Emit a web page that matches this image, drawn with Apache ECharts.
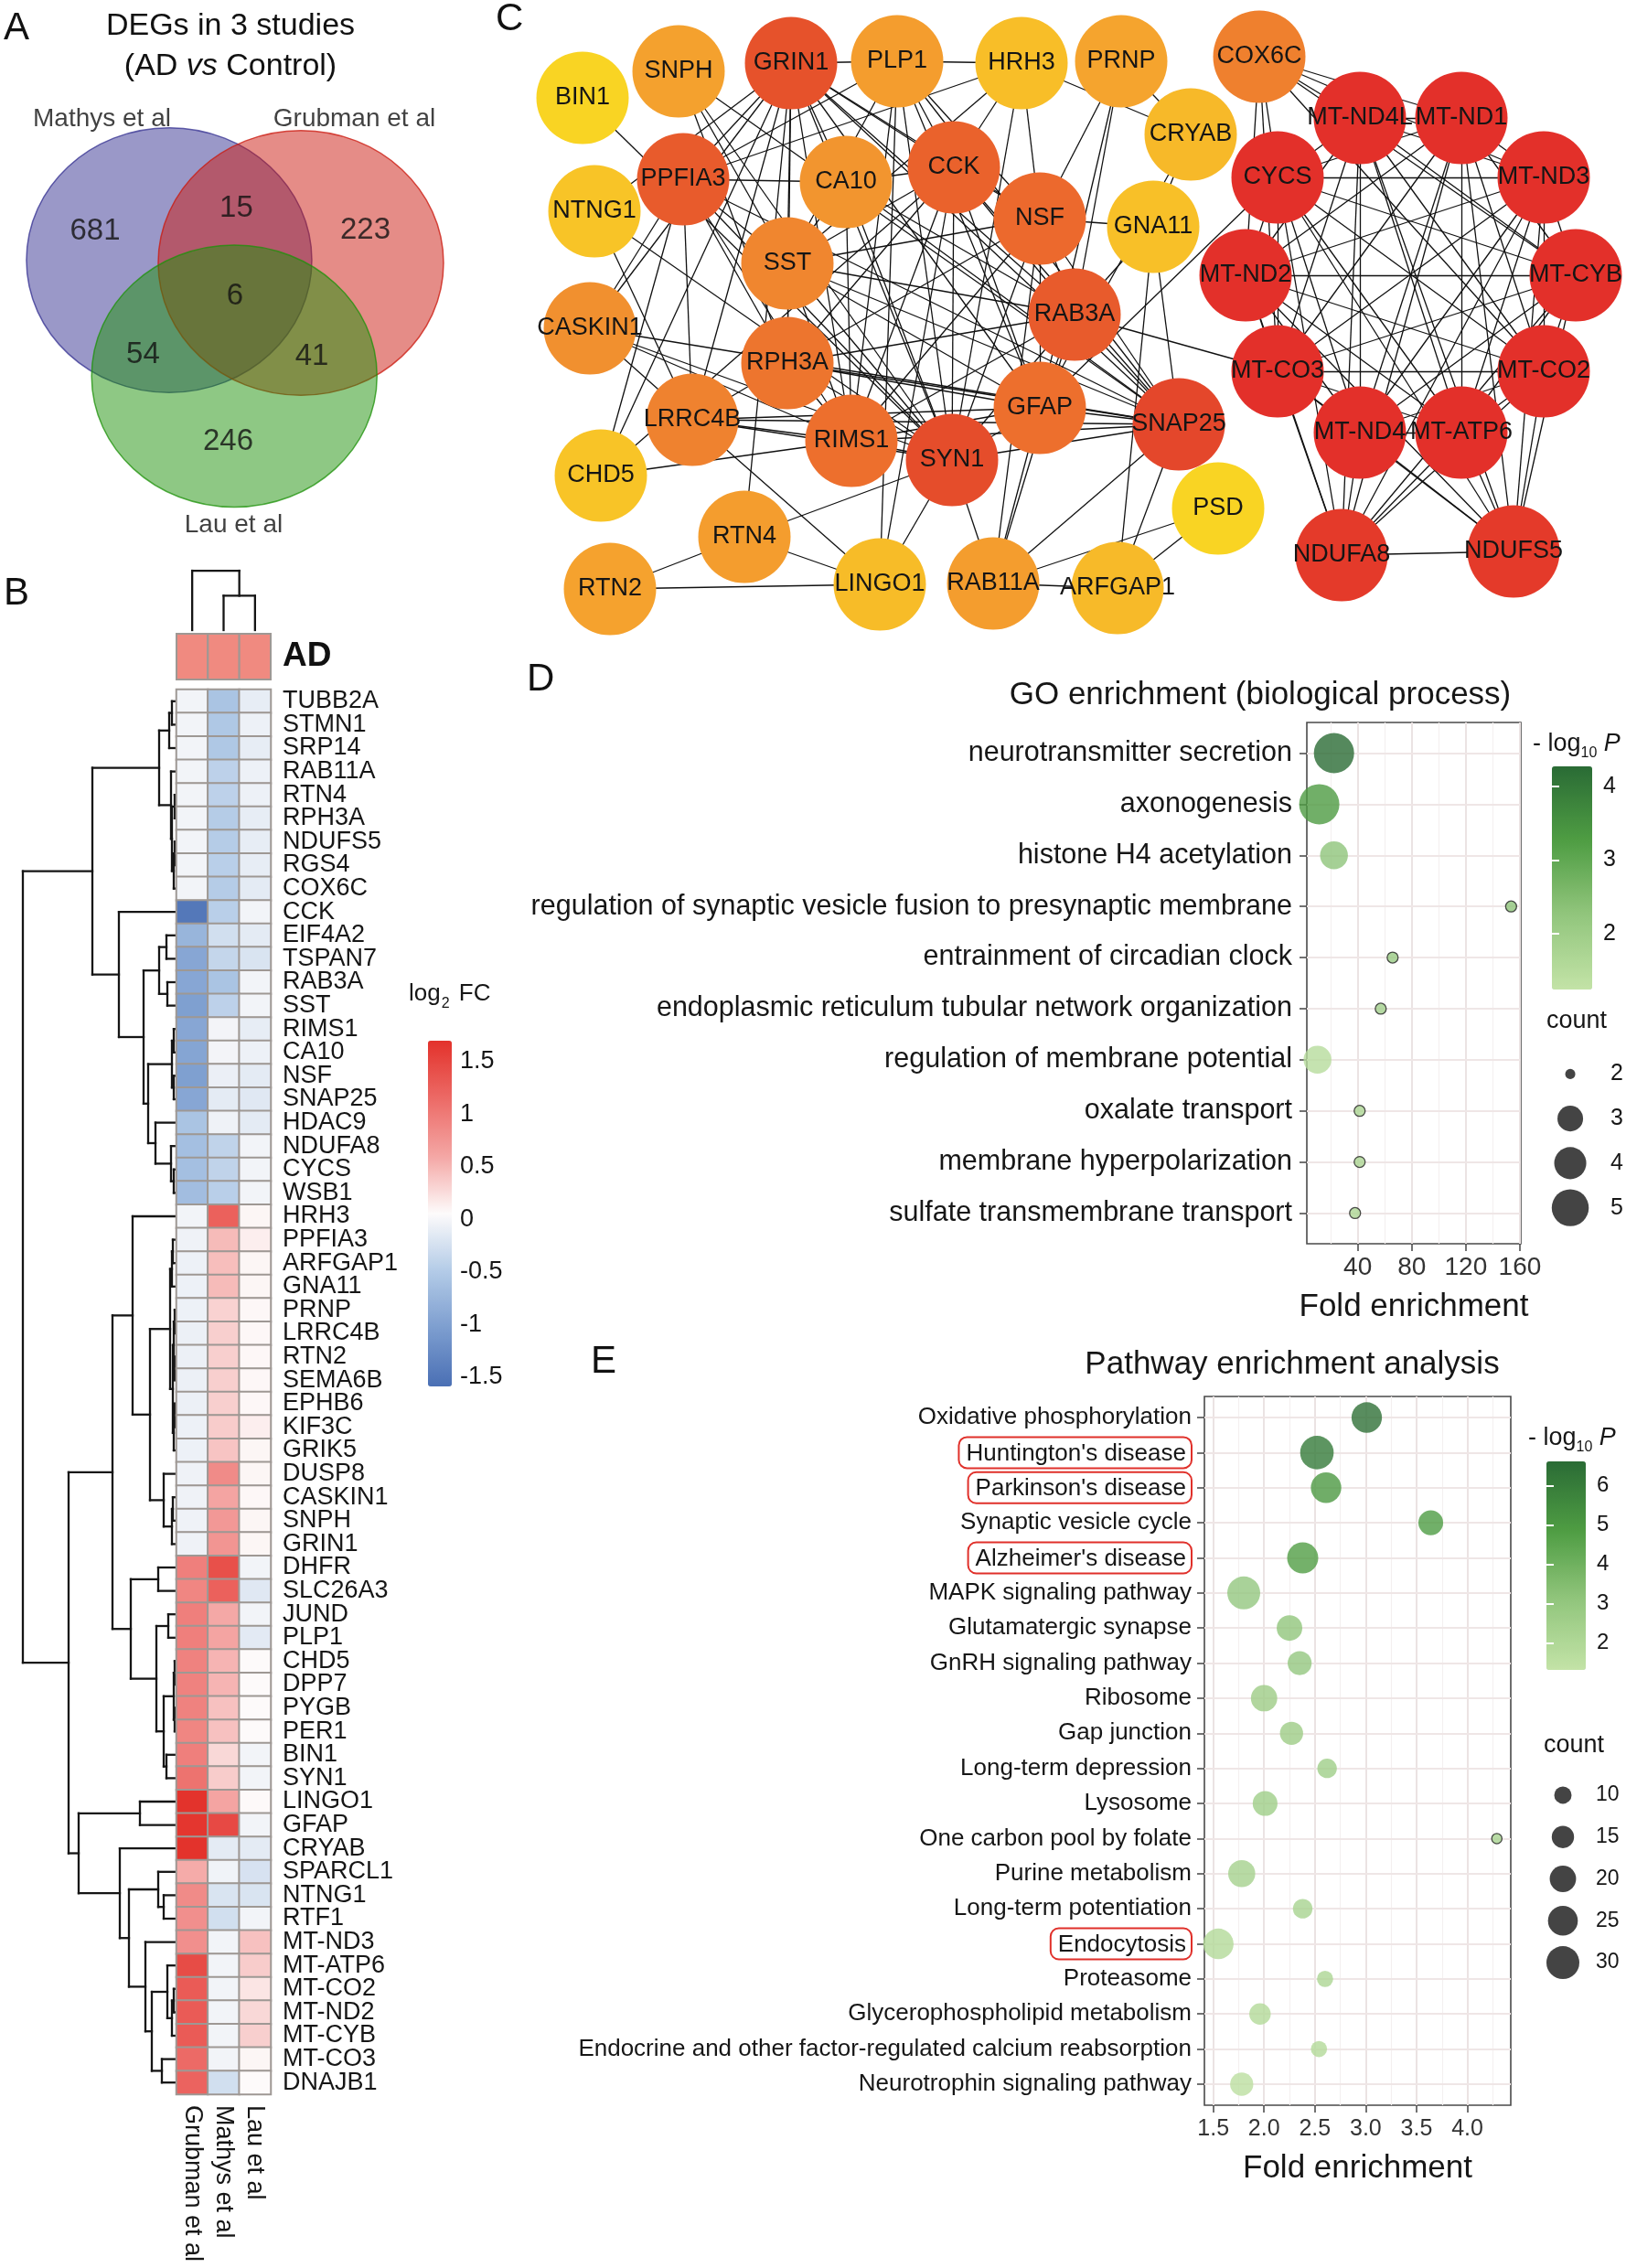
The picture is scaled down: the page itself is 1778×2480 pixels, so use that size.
<!DOCTYPE html>
<html>
<head>
<meta charset="utf-8">
<script src="https://cdn.jsdelivr.net/npm/echarts@6.0.0/dist/echarts.min.js"></script>
<style>
html,body{margin:0;padding:0;background:#fff;}
#chart{width:1778px;height:2480px;}
</style>
</head>
<body>
<div id="chart"></div>
<script>
// ================= DATA =================
// ---- Panel A: Venn ----
const vennSetNames = ['Mathys et al', 'Grubman et al', 'Lau et al'];
const vennRegionNames = ['Mathys only', 'Grubman only', 'Lau only', 'Mathys & Grubman', 'Mathys & Lau', 'Grubman & Lau', 'All three'];
const vennCounts = [681, 223, 246, 15, 54, 41, 6];

// ---- Panel B: heatmap ----
const studies = ['Grubman et al', 'Mathys et al', 'Lau et al'];
const annotationRow = ['AD'];
const genes = ['TUBB2A','STMN1','SRP14','RAB11A','RTN4','RPH3A','NDUFS5','RGS4','COX6C','CCK',
  'EIF4A2','TSPAN7','RAB3A','SST','RIMS1','CA10','NSF','SNAP25','HDAC9','NDUFA8',
  'CYCS','WSB1','HRH3','PPFIA3','ARFGAP1','GNA11','PRNP','LRRC4B','RTN2','SEMA6B',
  'EPHB6','KIF3C','GRIK5','DUSP8','CASKIN1','SNPH','GRIN1','DHFR','SLC26A3','JUND',
  'PLP1','CHD5','DPP7','PYGB','PER1','BIN1','SYN1','LINGO1','GFAP','CRYAB',
  'SPARCL1','NTNG1','RTF1','MT-ND3','MT-ATP6','MT-CO2','MT-ND2','MT-CYB','MT-CO3','DNAJB1'];
const fcGrubman = [-0.03,-0.03,-0.03,-0.03,-0.03,-0.03,-0.03,-0.03,-0.03,-1.48,
  -0.76,-0.93,-0.93,-1.01,-0.93,-0.95,-1.01,-0.93,-0.58,-0.64,
  -0.64,-0.66,-0.03,-0.05,-0.06,-0.06,-0.06,-0.07,-0.07,-0.07,
  -0.07,-0.06,-0.06,-0.05,-0.05,-0.05,-0.05,0.96,0.90,0.96,
  0.96,0.93,0.93,0.93,0.90,0.96,1.07,1.69,1.66,1.69,
  0.57,0.85,0.81,0.81,1.45,1.30,1.30,1.30,1.15,1.22];
const fcMathys = [-0.58,-0.53,-0.53,-0.42,-0.42,-0.48,-0.48,-0.45,-0.48,-0.45,
  -0.27,-0.37,-0.58,-0.42,-0.02,-0.02,-0.08,-0.13,-0.05,-0.40,
  -0.40,-0.45,1.24,0.47,0.45,0.47,0.32,0.34,0.34,0.34,
  0.34,0.36,0.41,0.85,0.62,0.73,0.76,1.41,1.24,0.59,
  0.62,0.51,0.51,0.43,0.43,0.28,0.36,0.62,1.47,-0.13,
  -0.04,-0.21,-0.27,-0.03,-0.03,-0.03,-0.03,-0.03,-0.03,-0.27];
const fcLau = [-0.11,-0.06,-0.11,-0.06,-0.06,-0.11,-0.11,-0.11,-0.13,-0.03,
  -0.13,-0.21,-0.03,-0.03,-0.11,-0.06,-0.13,-0.16,-0.13,-0.03,
  -0.03,-0.03,0.09,0.14,0.09,0.09,0.08,0.08,0.08,0.08,
  0.08,0.14,0.09,0.09,0.08,0.09,0.09,-0.03,-0.16,-0.03,
  -0.14,0.06,0.06,0.06,0.06,-0.03,-0.03,0.07,-0.03,-0.13,
  -0.23,-0.21,-0.03,0.43,0.36,0.20,0.28,0.34,0.09,0.06];
// hierarchical clustering merges (R hclust style: negative = leaf, positive = earlier merge), height
const rowMerges = [
  [-1,-2,5],[1,-3,8],[-5,-6,2],[-7,-8,2],[4,-9,3],[3,5,5],[-4,6,6],[2,7,19],
  [-11,-12,11],[-13,-14,10],[9,10,19],[-15,-16,3],[-17,-18,3],[12,13,5],[-21,-22,3],[-20,15,6],
  [-19,16,23],[14,17,31],[11,18,36],[-10,19,63],[8,20,92],
  [-24,-25,4],[22,-26,5],[-27,-28,2],[-29,-30,2],[24,25,3],[-31,-32,2],[27,-33,3],[26,28,4],
  [23,29,7],[-35,-36,4],[31,-37,5],[-34,32,14],[30,33,29],[-23,34,48],
  [-38,-39,20],[-40,-41,9],[-42,-43,2],[-44,-45,2],[38,39,3],[-46,-47,11],[40,41,14],[37,42,22],
  [36,43,50],[35,44,70],
  [-48,-49,40],[-52,-53,14],[-51,47,20],[-56,-57,3],[49,-58,5],[-55,50,10],[-59,-60,16],[51,52,27],
  [-54,53,34],[48,54,52],[-50,55,62],[46,56,107],[45,57,118],[21,58,168]
];
const colMerges = [[-2,-3,37],[-1,1,64]];
const fcTicks = [-1.5,-1,-0.5,0,0.5,1,1.5];

// ---- Panel C: network ----
const netNodes = ['BIN1','SNPH','GRIN1','PLP1','HRH3','PRNP','COX6C','CRYAB','NTNG1','PPFIA3',
  'CA10','CCK','NSF','GNA11','SST','RAB3A','CASKIN1','RPH3A','LRRC4B','GFAP',
  'SNAP25','RIMS1','SYN1','CHD5','PSD','RTN4','RTN2','LINGO1','RAB11A','ARFGAP1',
  'MT-ND4L','MT-ND1','CYCS','MT-ND3','MT-ND2','MT-CYB','MT-CO3','MT-CO2','MT-ND4','MT-ATP6','NDUFA8','NDUFS5'];
const netScore = [0.00,0.36,0.82,0.38,0.19,0.34,0.55,0.22,0.15,0.76,
  0.43,0.72,0.67,0.18,0.52,0.76,0.46,0.61,0.54,0.64,
  0.88,0.64,0.85,0.15,0.00,0.38,0.35,0.20,0.38,0.21,
  1,1,1,1,1,1,1,1,1,1,0.95,0.95];
const netEdges = [
  ['GRIN1','PLP1'],['GRIN1','PPFIA3'],['GRIN1','CASKIN1'],['GRIN1','LRRC4B'],['GRIN1','CHD5'],['GRIN1','SST'],['GRIN1','CA10'],['GRIN1','RPH3A'],['GRIN1','RIMS1'],['GRIN1','SYN1'],['GRIN1','GFAP'],['GRIN1','SNAP25'],['GRIN1','RAB3A'],['GRIN1','NSF'],['GRIN1','CCK'],['GRIN1','NTNG1'],['GRIN1','RTN4'],
  ['SNPH','SST'],['SNPH','SYN1'],['SNPH','SNAP25'],['SNPH','RPH3A'],['BIN1','SYN1'],
  ['PLP1','HRH3'],['PLP1','CCK'],['PLP1','SYN1'],['PLP1','SST'],['PLP1','RIMS1'],['PLP1','SNAP25'],['PLP1','GFAP'],['PLP1','PPFIA3'],['PLP1','LINGO1'],['PLP1','NSF'],
  ['HRH3','CCK'],['HRH3','SST'],['HRH3','CRYAB'],['HRH3','SYN1'],['HRH3','PPFIA3'],['HRH3','NSF'],
  ['PRNP','NSF'],['PRNP','GFAP'],['PRNP','CRYAB'],['PRNP','RAB3A'],['CRYAB','GNA11'],['CRYAB','GFAP'],
  ['GNA11','NSF'],['GNA11','RAB3A'],['GNA11','ARFGAP1'],['GNA11','SNAP25'],
  ['CCK','SST'],['CCK','SYN1'],['CCK','RIMS1'],['CCK','GFAP'],['CCK','SNAP25'],['CCK','RAB3A'],['CCK','NSF'],['CCK','CA10'],['CCK','RPH3A'],['CCK','LINGO1'],['CCK','CHD5'],
  ['NSF','SNAP25'],['NSF','SYN1'],['NSF','RAB3A'],['NSF','GFAP'],['NSF','RIMS1'],['NSF','RAB11A'],['NSF','SST'],['NSF','RPH3A'],
  ['RAB3A','SNAP25'],['RAB3A','SYN1'],['RAB3A','RIMS1'],['RAB3A','RPH3A'],['RAB3A','GFAP'],['RAB3A','MT-CO3'],['RAB3A','RAB11A'],['RAB3A','SST'],['RAB3A','CA10'],
  ['SNAP25','SYN1'],['SNAP25','GFAP'],['SNAP25','RIMS1'],['SNAP25','RPH3A'],['SNAP25','SST'],['SNAP25','CA10'],['SNAP25','RAB11A'],['SNAP25','ARFGAP1'],['SNAP25','LRRC4B'],['SNAP25','PPFIA3'],['SNAP25','CASKIN1'],
  ['SYN1','RIMS1'],['SYN1','GFAP'],['SYN1','RPH3A'],['SYN1','SST'],['SYN1','CA10'],['SYN1','LRRC4B'],['SYN1','RTN4'],['SYN1','LINGO1'],['SYN1','RAB11A'],['SYN1','PPFIA3'],['SYN1','CASKIN1'],['SYN1','NTNG1'],
  ['GFAP','RIMS1'],['GFAP','RPH3A'],['GFAP','RAB11A'],['GFAP','LRRC4B'],['GFAP','SST'],['GFAP','CYCS'],
  ['RIMS1','RPH3A'],['RIMS1','LRRC4B'],['RIMS1','PPFIA3'],['RIMS1','CASKIN1'],['RIMS1','CA10'],['RIMS1','SST'],['RIMS1','CHD5'],
  ['PPFIA3','SST'],['PPFIA3','LRRC4B'],['PPFIA3','CASKIN1'],['PPFIA3','CHD5'],['PPFIA3','RPH3A'],['PPFIA3','CA10'],
  ['LRRC4B','CASKIN1'],['LRRC4B','LINGO1'],['LRRC4B','NTNG1'],['LRRC4B','RPH3A'],
  ['RTN2','RTN4'],['RTN2','LINGO1'],['RTN4','LINGO1'],['RAB11A','ARFGAP1'],['RAB11A','PSD'],['ARFGAP1','PSD'],
  ['SST','RPH3A'],['CA10','SST']
];
const mtClique = ['MT-ND4L','MT-ND1','MT-ND3','MT-CYB','MT-CO2','MT-ATP6','MT-ND4','MT-CO3','MT-ND2','CYCS'];
const mtHubEdges = [
  ['NDUFA8', ['MT-ND4L','MT-ND1','MT-ND3','MT-CYB','MT-CO2','MT-ATP6','MT-ND4','MT-CO3','MT-ND2','CYCS','NDUFS5']],
  ['NDUFS5', ['MT-ND4L','MT-ND1','MT-ND3','MT-CYB','MT-CO2','MT-ATP6','MT-ND4','MT-CO3','MT-ND2','CYCS']],
  ['COX6C', ['CYCS','MT-ND4L','MT-ND1','MT-ND3','MT-ND2','MT-CO3','MT-CYB','MT-CO2']]
];

// ---- Panel D: GO enrichment ----
const goTerms = ['neurotransmitter secretion','axonogenesis','histone H4 acetylation',
  'regulation of synaptic vesicle fusion to presynaptic membrane','entrainment of circadian clock',
  'endoplasmic reticulum tubular network organization','regulation of membrane potential',
  'oxalate transport','membrane hyperpolarization','sulfate transmembrane transport'];
const goFold = [22.4, 11.5, 22.4, 153.5, 65.8, 57.0, 10.2, 41.4, 41.4, 38.0];
const goLogP = [4.25, 3.3, 2.3, 2.3, 2.1, 1.9, 1.5, 1.7, 1.7, 1.7];
const goCount = [5, 5, 3, 2, 2, 2, 3, 2, 2, 2];
const goTicks = [40, 80, 120, 160];
const goMinorTicks = [20, 60, 100, 140];
const goColorTicks = [2, 3, 4];
const goCountLegend = [2, 3, 4, 5];

// ---- Panel E: pathway enrichment ----
const pwTerms = ['Oxidative phosphorylation',"Huntington's disease","Parkinson's disease",'Synaptic vesicle cycle',
  "Alzheimer's disease",'MAPK signaling pathway','Glutamatergic synapse','GnRH signaling pathway','Ribosome',
  'Gap junction','Long-term depression','Lysosome','One carbon pool by folate','Purine metabolism',
  'Long-term potentiation','Endocytosis','Proteasome','Glycerophospholipid metabolism',
  'Endocrine and other factor-regulated calcium reabsorption','Neurotrophin signaling pathway'];
const pwFold = [3.01, 2.52, 2.61, 3.64, 2.38, 1.80, 2.25, 2.35, 2.00, 2.27, 2.62, 2.01, 4.29, 1.78, 2.38, 1.55, 2.60, 1.96, 2.54, 1.78];
const pwLogP = [6.4, 6.1, 5.0, 4.9, 4.8, 3.0, 3.1, 3.0, 2.7, 2.7, 2.6, 2.6, 2.3, 2.4, 2.3, 1.9, 2.1, 1.9, 1.9, 1.6];
const pwCount = [26, 31, 26, 18, 27, 30, 19, 17, 20, 16, 12, 18, 5, 21, 12, 26, 9, 14, 9, 16];
const pwHighlight = ["Huntington's disease", "Parkinson's disease", "Alzheimer's disease", 'Endocytosis'];
const pwTicks = [1.5, 2.0, 2.5, 3.0, 3.5, 4.0];
const pwMinorTicks = [1.75, 2.25, 2.75, 3.25, 3.75, 4.25];
const pwColorTicks = [2, 3, 4, 5, 6];
const pwCountLegend = [10, 15, 20, 25, 30];

// ================= LAYOUT / STYLE =================
const FONT = '"Liberation Sans", Arial, Helvetica, sans-serif';
const TXT = '#161616';
const VENN_CIRCLES = [[-0.48,-0.29,1.04,0.965],[0.48,-0.27,1.04,0.965],[-0.005,0.555,1.04,0.955]];
const VENN_FILL = ['rgba(53,49,145,0.5)','rgba(203,25,15,0.5)','rgba(30,145,10,0.5)'];
const VENN_STROKE = ['rgba(53,49,145,0.75)','rgba(203,25,15,0.75)','rgba(30,145,10,0.75)'];
const VENN_COUNT_POS = [[-1.02,-0.50],[0.95,-0.51],[-0.05,1.03],[0.01,-0.67],[-0.67,0.40],[0.56,0.41],[0,-0.03]];
const VENN_NAME_POS = [[-0.97,-1.32],[0.87,-1.32],[-0.01,1.64]];
const NET_POS = {
  'BIN1':[637,107],'SNPH':[742,78],'GRIN1':[865,69],'PLP1':[981,67],'HRH3':[1117,69],'PRNP':[1226,67],'COX6C':[1377,62],'CRYAB':[1302,147],
  'NTNG1':[650,231],'PPFIA3':[747,196],'CA10':[925,199],'CCK':[1043,183],'NSF':[1137,239],'GNA11':[1261,248],'SST':[861,288],'RAB3A':[1175,344],
  'CASKIN1':[645,359],'RPH3A':[861,397],'LRRC4B':[757,459],'GFAP':[1137,446],'SNAP25':[1289,464],'RIMS1':[931,482],'SYN1':[1041,503],'CHD5':[657,520],
  'PSD':[1332,556],'RTN4':[814,587],'RTN2':[667,644],'LINGO1':[962,639],'RAB11A':[1086,638],'ARFGAP1':[1222,643],
  'MT-ND4L':[1487,129],'MT-ND1':[1598,129],'CYCS':[1397,194],'MT-ND3':[1688,194],'MT-ND2':[1362,301],'MT-CYB':[1723,301],
  'MT-CO3':[1397,406],'MT-CO2':[1688,406],'MT-ND4':[1487,473],'MT-ATP6':[1598,473],'NDUFA8':[1467,607],'NDUFS5':[1655,603]
};
const NODE_RAMP = ['#f9d423','#f8c227','#f5a52e','#f08a2f','#ec6a2d','#e5502b','#e3302a'];
const GREENS = ['#c3e3a7','#92c67d','#4f9d43','#2a6b35'];
const FC_COLORS = ['#4a6fb4','#7c9dcf','#b3cbe7','#fdfbfb','#f4a6a4','#ec6a66','#e3322b'];

function hexRgb(h){ return [parseInt(h.slice(1,3),16),parseInt(h.slice(3,5),16),parseInt(h.slice(5,7),16)]; }
function rampColor(t){
  t = Math.max(0, Math.min(1, t));
  const n = NODE_RAMP.length - 1;
  const k = Math.min(n - 1, Math.floor(t * n));
  const f = t * n - k;
  const a = hexRgb(NODE_RAMP[k]), b = hexRgb(NODE_RAMP[k + 1]);
  return 'rgb(' + a.map((v, i) => Math.round(v + (b[i] - v) * f)).join(',') + ')';
}
const goSize = c => 12 + 32 * Math.sqrt(Math.max(0, c - 2) / 3);
const pwSize = c => Math.sqrt(46.8 * Math.max(0, c - 2.3));

function dendroSegments(merges){
  const pos = [], hgt = [], segs = [];
  const P = id => id < 0 ? (-id - 0.5) : pos[id - 1];
  const H = id => id < 0 ? 0 : hgt[id - 1];
  merges.forEach(([a, b, h]) => {
    const pa = P(a), pb = P(b);
    segs.push([H(a), pa, h, pa]);
    segs.push([h, pa, h, pb]);
    segs.push([H(b), pb, h, pb]);
    pos.push((pa + pb) / 2); hgt.push(h);
  });
  return segs;
}
const rowSegs = dendroSegments(rowMerges);
const colSegs = dendroSegments(colMerges).map(s => [s[1], s[0], s[3], s[2]]);

function segItem(params, api){
  const p1 = api.coord([api.value(0), api.value(1)]);
  const p2 = api.coord([api.value(2), api.value(3)]);
  return {type:'line', shape:{x1:p1[0], y1:p1[1], x2:p2[0], y2:p2[1]},
    style:{stroke:'#151515', lineWidth:2.3, lineCap:'square'}};
}

const fcCols = [fcGrubman, fcMathys, fcLau];
const heatData = [];
genes.forEach((g, i) => fcCols.forEach((arr, j) => heatData.push([j, i, arr[i]])));

const nodeData = netNodes.map((n, i) => ({
  name: n, value: NET_POS[n], itemStyle: {color: rampColor(netScore[i])}
}));
const links = netEdges.map(([s, t]) => ({source: s, target: t}));
for (let i = 0; i < mtClique.length; i++)
  for (let j = i + 1; j < mtClique.length; j++) links.push({source: mtClique[i], target: mtClique[j]});
mtHubEdges.forEach(([s, ts]) => ts.forEach(t => links.push({source: s, target: t})));

const goData = goTerms.map((t, i) => ({value: [goFold[i], i + 1, goLogP[i], goCount[i]],
  itemStyle: goSize(goCount[i]) < 16 ? {borderColor:'#222', borderWidth:1.3} : {}}));
const pwData = pwTerms.map((t, i) => ({value: [pwFold[i], i + 1, pwLogP[i], pwCount[i]],
  itemStyle: pwSize(pwCount[i]) < 14 ? {borderColor:'#222', borderWidth:1.3} : {}}));

function gridMarkLines(major, minor, n){
  return {
    silent: true, symbol: ['none','none'], z: 1, animation: false,
    label: {show: false}, emphasis: {disabled: true},
    data: [
      ...minor.map(v => ({xAxis: v, lineStyle: {color:'#f4f0f0', width:1.2, type:'solid'}})),
      ...major.map(v => ({xAxis: v, lineStyle: {color:'#ebe3e3', width:2, type:'solid'}})),
      ...Array.from({length: n}, (_, i) => ({yAxis: i + 1, lineStyle: {color:'#efe6e6', width:2, type:'solid'}}))
    ]
  };
}

const hidden = (gi, extra) => Object.assign({gridIndex: gi, type: 'value', show: false}, extra || {});
const noLine = {show: false};
const richP = {
  a: {fontSize: 27, fontFamily: FONT, fill: TXT, lineHeight: 32, verticalAlign: 'top'},
  s: {fontSize: 16, fontFamily: FONT, fill: TXT, lineHeight: 16, verticalAlign: 'bottom'},
  p: {fontSize: 27, fontFamily: FONT, fontStyle: 'italic', fill: TXT, lineHeight: 32, verticalAlign: 'top'}
};

const option = {
  animation: false,
  backgroundColor: '#ffffff',
  textStyle: {fontFamily: FONT},
  grid: [
    {left: 0, top: 0, width: 560, height: 600},
    {left: 25, top: 754, width: 168, height: 1536},
    {left: 193, top: 622, width: 103, height: 67},
    {left: 193, top: 693, width: 103, height: 50},
    {left: 193, top: 754, width: 103, height: 1536},
    {left: 468, top: 1138, width: 26, height: 378},
    {left: 540, top: 0, width: 1238, height: 700},
    {left: 1429, top: 790, width: 234, height: 570, show: true, borderColor: '#4a4a4a', borderWidth: 1.6, backgroundColor: '#fff'},
    {left: 1697, top: 838, width: 44, height: 244},
    {left: 1698, top: 1150, width: 40, height: 195},
    {left: 1317, top: 1527, width: 335, height: 775, show: true, borderColor: '#4a4a4a', borderWidth: 1.6, backgroundColor: '#fff'},
    {left: 1691, top: 1598, width: 43, height: 228},
    {left: 1689, top: 1940, width: 40, height: 229}
  ],
  xAxis: [
    hidden(0, {min: -1.713, max: 2.02}),
    hidden(1, {min: 0, max: 168, inverse: true}),
    hidden(2, {min: 0, max: 3}),
    {gridIndex: 3, type: 'category', data: studies, show: false},
    {gridIndex: 4, type: 'category', data: studies, position: 'bottom',
      axisLine: noLine, axisTick: noLine,
      axisLabel: {interval: 0, rotate: -90, fontSize: 27, margin: 12, color: TXT}},
    hidden(5, {min: 0, max: 1}),
    hidden(6, {min: 540, max: 1778}),
    {gridIndex: 7, type: 'value', min: 2.3, max: 160.7, axisLine: noLine, splitLine: noLine,
      axisTick: {show: true, customValues: goTicks, length: 8, lineStyle: {color: '#444', width: 1.5}},
      axisLabel: {customValues: goTicks, fontSize: 28, margin: 12, color: '#333'},
      name: 'Fold enrichment', nameLocation: 'middle', nameGap: 52,
      nameTextStyle: {fontSize: 35, color: TXT}},
    hidden(8, {min: 0, max: 1}),
    hidden(9, {min: 0, max: 1}),
    {gridIndex: 10, type: 'value', min: 1.413, max: 4.427, axisLine: noLine, splitLine: noLine,
      axisTick: {show: true, customValues: pwTicks, length: 8, lineStyle: {color: '#444', width: 1.5}},
      axisLabel: {customValues: pwTicks, fontSize: 25, margin: 14, color: '#333', formatter: v => v.toFixed(1)},
      name: 'Fold enrichment', nameLocation: 'middle', nameGap: 52,
      nameTextStyle: {fontSize: 35, color: TXT}},
    hidden(11, {min: 0, max: 1}),
    hidden(12, {min: 0, max: 1})
  ],
  yAxis: [
    hidden(0, {min: -2.187, max: 1.813, inverse: true}),
    hidden(1, {min: 0, max: 60, inverse: true}),
    hidden(2, {min: 0, max: 66}),
    {gridIndex: 3, type: 'category', data: annotationRow, position: 'right',
      axisLine: noLine, axisTick: noLine,
      axisLabel: {fontSize: 37, fontWeight: 'bold', margin: 13, color: '#111'}},
    {gridIndex: 4, type: 'category', data: genes, inverse: true, position: 'right',
      axisLine: noLine, axisTick: noLine,
      axisLabel: {interval: 0, fontSize: 27, margin: 13, color: TXT}},
    {gridIndex: 5, type: 'value', min: -1.59, max: 1.70, position: 'right',
      axisLine: noLine, axisTick: noLine, splitLine: noLine,
      axisLabel: {customValues: fcTicks, fontSize: 27, margin: 9, color: TXT, formatter: v => String(v)}},
    hidden(6, {min: 0, max: 700, inverse: true}),
    {gridIndex: 7, type: 'value', min: 0.4, max: 10.6, inverse: true, axisLine: noLine, splitLine: noLine,
      axisTick: {show: true, customValues: goTerms.map((t, i) => i + 1), length: 8, lineStyle: {color: '#444', width: 1.5}},
      axisLabel: {customValues: goTerms.map((t, i) => i + 1), fontSize: 30.5, margin: 16, color: TXT,
        formatter: v => goTerms[Math.round(v) - 1] || ''}},
    {gridIndex: 8, type: 'value', min: 1.24, max: 4.27, position: 'right', z: 10,
      axisLine: noLine, splitLine: noLine,
      axisTick: {show: true, inside: true, customValues: goColorTicks, length: 8, lineStyle: {color: '#fff', width: 2}},
      axisLabel: {customValues: goColorTicks, fontSize: 25, margin: 12, color: TXT}},
    {gridIndex: 9, type: 'category', data: goCountLegend.map(String), position: 'right', inverse: true,
      axisLine: noLine, axisTick: noLine,
      axisLabel: {fontSize: 25, margin: 25, color: TXT}},
    {gridIndex: 10, type: 'value', min: 0.4, max: 20.6, inverse: true, axisLine: noLine, splitLine: noLine,
      axisTick: {show: true, customValues: pwTerms.map((t, i) => i + 1), length: 8, lineStyle: {color: '#444', width: 1.5}},
      axisLabel: {customValues: pwTerms.map((t, i) => i + 1), fontSize: 26, margin: 14, color: TXT,
        formatter: v => { const t = pwTerms[Math.round(v) - 1] || ''; return pwHighlight.includes(t) ? '{hl|' + t + '}' : t; },
        rich: {hl: {fontSize: 26, color: TXT, fontFamily: FONT, borderColor: '#e0302a', borderWidth: 2, borderRadius: 9, padding: [5, 6, 3, 8]}}}},
    {gridIndex: 11, type: 'value', min: 1.31, max: 6.62, position: 'right', z: 10,
      axisLine: noLine, splitLine: noLine,
      axisTick: {show: true, inside: true, customValues: pwColorTicks, length: 8, lineStyle: {color: '#fff', width: 2}},
      axisLabel: {customValues: pwColorTicks, fontSize: 24, margin: 12, color: TXT}},
    {gridIndex: 12, type: 'category', data: pwCountLegend.map(String), position: 'right', inverse: true,
      axisLine: noLine, axisTick: noLine,
      axisLabel: {fontSize: 23, margin: 16, color: TXT}},
    {gridIndex: 8, type: 'value', min: 1.24, max: 4.27, position: 'left', z: 10,
      axisLine: noLine, splitLine: noLine, axisLabel: {show: false},
      axisTick: {show: true, inside: true, customValues: goColorTicks, length: 8, lineStyle: {color: '#fff', width: 2}}},
    {gridIndex: 11, type: 'value', min: 1.31, max: 6.62, position: 'left', z: 10,
      axisLine: noLine, splitLine: noLine, axisLabel: {show: false},
      axisTick: {show: true, inside: true, customValues: pwColorTicks, length: 8, lineStyle: {color: '#fff', width: 2}}}
  ],
  visualMap: [
    {type: 'continuous', seriesIndex: 6, dimension: 2, min: -1.59, max: 1.70, calculable: false,
      inRange: {color: FC_COLORS}, left: 468, top: 1138, itemWidth: 26, itemHeight: 378,
      padding: 0, text: null, hoverLink: false, show: true},
    {type: 'continuous', seriesIndex: 8, dimension: 2, min: 1.24, max: 4.27, calculable: false,
      inRange: {color: GREENS}, left: 1697, top: 838, itemWidth: 44, itemHeight: 244,
      padding: 0, text: null, hoverLink: false, show: true},
    {type: 'continuous', seriesIndex: 10, dimension: 2, min: 1.31, max: 6.62, calculable: false,
      inRange: {color: GREENS}, left: 1691, top: 1598, itemWidth: 43, itemHeight: 228,
      padding: 0, text: null, hoverLink: false, show: true}
  ],
  series: [
    {type: 'custom', xAxisIndex: 0, yAxisIndex: 0, silent: true,
      data: VENN_CIRCLES.map((c, i) => [c[0], c[1], c[2], c[3], i]),
      renderItem: (params, api) => {
        const c = api.coord([api.value(0), api.value(1)]);
        const s = api.size([api.value(2), api.value(3)]);
        const k = api.value(4);
        return {type: 'ellipse', shape: {cx: c[0], cy: c[1], rx: s[0], ry: s[1]},
          style: {fill: VENN_FILL[k], stroke: VENN_STROKE[k], lineWidth: 1.5}};
      }},
    {type: 'scatter', xAxisIndex: 0, yAxisIndex: 0, silent: true, symbolSize: 1, z: 5,
      itemStyle: {color: 'rgba(0,0,0,0)'},
      data: vennCounts.map((c, i) => ({name: String(c), value: VENN_COUNT_POS[i]})),
      label: {show: true, position: 'inside', formatter: '{b}', fontSize: 33, color: '#111'}},
    {type: 'scatter', xAxisIndex: 0, yAxisIndex: 0, silent: true, symbolSize: 1, z: 5,
      itemStyle: {color: 'rgba(0,0,0,0)'},
      data: vennSetNames.map((n, i) => ({name: n, value: VENN_NAME_POS[i]})),
      label: {show: true, position: 'inside', formatter: '{b}', fontSize: 28, color: '#111'}},
    {type: 'custom', xAxisIndex: 1, yAxisIndex: 1, silent: true, data: rowSegs, renderItem: segItem},
    {type: 'custom', xAxisIndex: 2, yAxisIndex: 2, silent: true, data: colSegs, renderItem: segItem},
    {type: 'custom', xAxisIndex: 3, yAxisIndex: 3, silent: true,
      data: studies.map((s, i) => [i, 0]),
      renderItem: (params, api) => {
        const c = api.coord([api.value(0), api.value(1)]);
        const s = api.size([1, 1]);
        return {type: 'rect', shape: {x: c[0] - s[0] / 2, y: c[1] - s[1] / 2, width: s[0], height: s[1]},
          style: {fill: '#f08a80', stroke: '#9e9894', lineWidth: 2}};
      }},
    {type: 'heatmap', xAxisIndex: 4, yAxisIndex: 4, data: heatData, silent: true,
      itemStyle: {borderColor: '#9e9894', borderWidth: 2}, emphasis: {disabled: true}},
    {type: 'graph', coordinateSystem: 'cartesian2d', xAxisIndex: 6, yAxisIndex: 6, layout: 'none', silent: true,
      symbol: 'circle', symbolSize: 101, data: nodeData, links: links,
      lineStyle: {color: '#111', width: 1.3, opacity: 1, curveness: 0},
      label: {show: true, position: 'inside', fontSize: 27, color: '#151515', fontFamily: FONT},
      emphasis: {disabled: true}},
    {type: 'scatter', xAxisIndex: 7, yAxisIndex: 7, data: goData, z: 3, silent: true,
      symbolSize: v => goSize(v[3]),
      markLine: gridMarkLines(goTicks, goMinorTicks, goTerms.length)},
    {type: 'scatter', xAxisIndex: 9, yAxisIndex: 9, silent: true,
      data: goCountLegend.map((c, i) => [0.5, i, c]),
      symbolSize: v => goSize(v[2]) * 0.92, itemStyle: {color: '#151515'}},
    {type: 'scatter', xAxisIndex: 10, yAxisIndex: 10, data: pwData, z: 3, silent: true,
      symbolSize: v => pwSize(v[3]),
      markLine: gridMarkLines(pwTicks, pwMinorTicks, pwTerms.length)},
    {type: 'scatter', xAxisIndex: 12, yAxisIndex: 12, silent: true,
      data: pwCountLegend.map((c, i) => [0.5, i, c]),
      symbolSize: v => pwSize(v[2]), itemStyle: {color: '#151515'}}
  ],
  graphic: [
    {type: 'text', x: 4, y: 31, z: 100, style: {text: 'A', fontSize: 42, fontFamily: FONT, fill: '#111', align: 'left', verticalAlign: 'middle'}},
    {type: 'text', x: 252, y: 29, z: 100, style: {text: 'DEGs in 3 studies', fontSize: 34, fontFamily: FONT, fill: '#111', align: 'center', verticalAlign: 'middle'}},
    {type: 'text', x: 252, y: 73, z: 100, style: {text: '{a|(AD }{i|vs}{a| Control)}', align: 'center', verticalAlign: 'middle',
      rich: {a: {fontSize: 34, fontFamily: FONT, fill: '#111'}, i: {fontSize: 34, fontFamily: FONT, fontStyle: 'italic', fill: '#111'}}}},
    {type: 'text', x: 4, y: 649, z: 100, style: {text: 'B', fontSize: 42, fontFamily: FONT, fill: '#111', align: 'left', verticalAlign: 'middle'}},
    {type: 'text', x: 447, y: 1090, z: 100, style: {text: '{a|log}{s|2}{a| FC}', align: 'left', verticalAlign: 'middle',
      rich: {a: {fontSize: 26, fontFamily: FONT, fill: TXT, lineHeight: 32, verticalAlign: 'top'}, s: {fontSize: 16, fontFamily: FONT, fill: TXT, lineHeight: 16, verticalAlign: 'bottom', padding: [0, 3, 0, 1]}}}},
    {type: 'text', x: 542, y: 21, z: 100, style: {text: 'C', fontSize: 42, fontFamily: FONT, fill: '#111', align: 'left', verticalAlign: 'middle'}},
    {type: 'text', x: 576, y: 743, z: 100, style: {text: 'D', fontSize: 42, fontFamily: FONT, fill: '#111', align: 'left', verticalAlign: 'middle'}},
    {type: 'text', x: 1378, y: 760, z: 100, style: {text: 'GO enrichment (biological process)', fontSize: 35, fontFamily: FONT, fill: TXT, align: 'center', verticalAlign: 'middle'}},
    {type: 'text', x: 1676, y: 816, z: 100, style: {text: '{a|- log}{s|10}{a| }{p|P}', align: 'left', verticalAlign: 'middle', rich: richP}},
    {type: 'text', x: 1691, y: 1117, z: 100, style: {text: 'count', fontSize: 27, fontFamily: FONT, fill: TXT, align: 'left', verticalAlign: 'middle'}},
    {type: 'text', x: 646, y: 1489, z: 100, style: {text: 'E', fontSize: 42, fontFamily: FONT, fill: '#111', align: 'left', verticalAlign: 'middle'}},
    {type: 'text', x: 1413, y: 1492, z: 100, style: {text: 'Pathway enrichment analysis', fontSize: 35, fontFamily: FONT, fill: TXT, align: 'center', verticalAlign: 'middle'}},
    {type: 'text', x: 1671, y: 1575, z: 100, style: {text: '{a|- log}{s|10}{a| }{p|P}', align: 'left', verticalAlign: 'middle', rich: richP}},
    {type: 'text', x: 1688, y: 1909, z: 100, style: {text: 'count', fontSize: 27, fontFamily: FONT, fill: TXT, align: 'left', verticalAlign: 'middle'}}
  ]
};

const chart = echarts.init(document.getElementById('chart'), null, {renderer: 'canvas'});
chart.setOption(option);
</script>
</body>
</html>
